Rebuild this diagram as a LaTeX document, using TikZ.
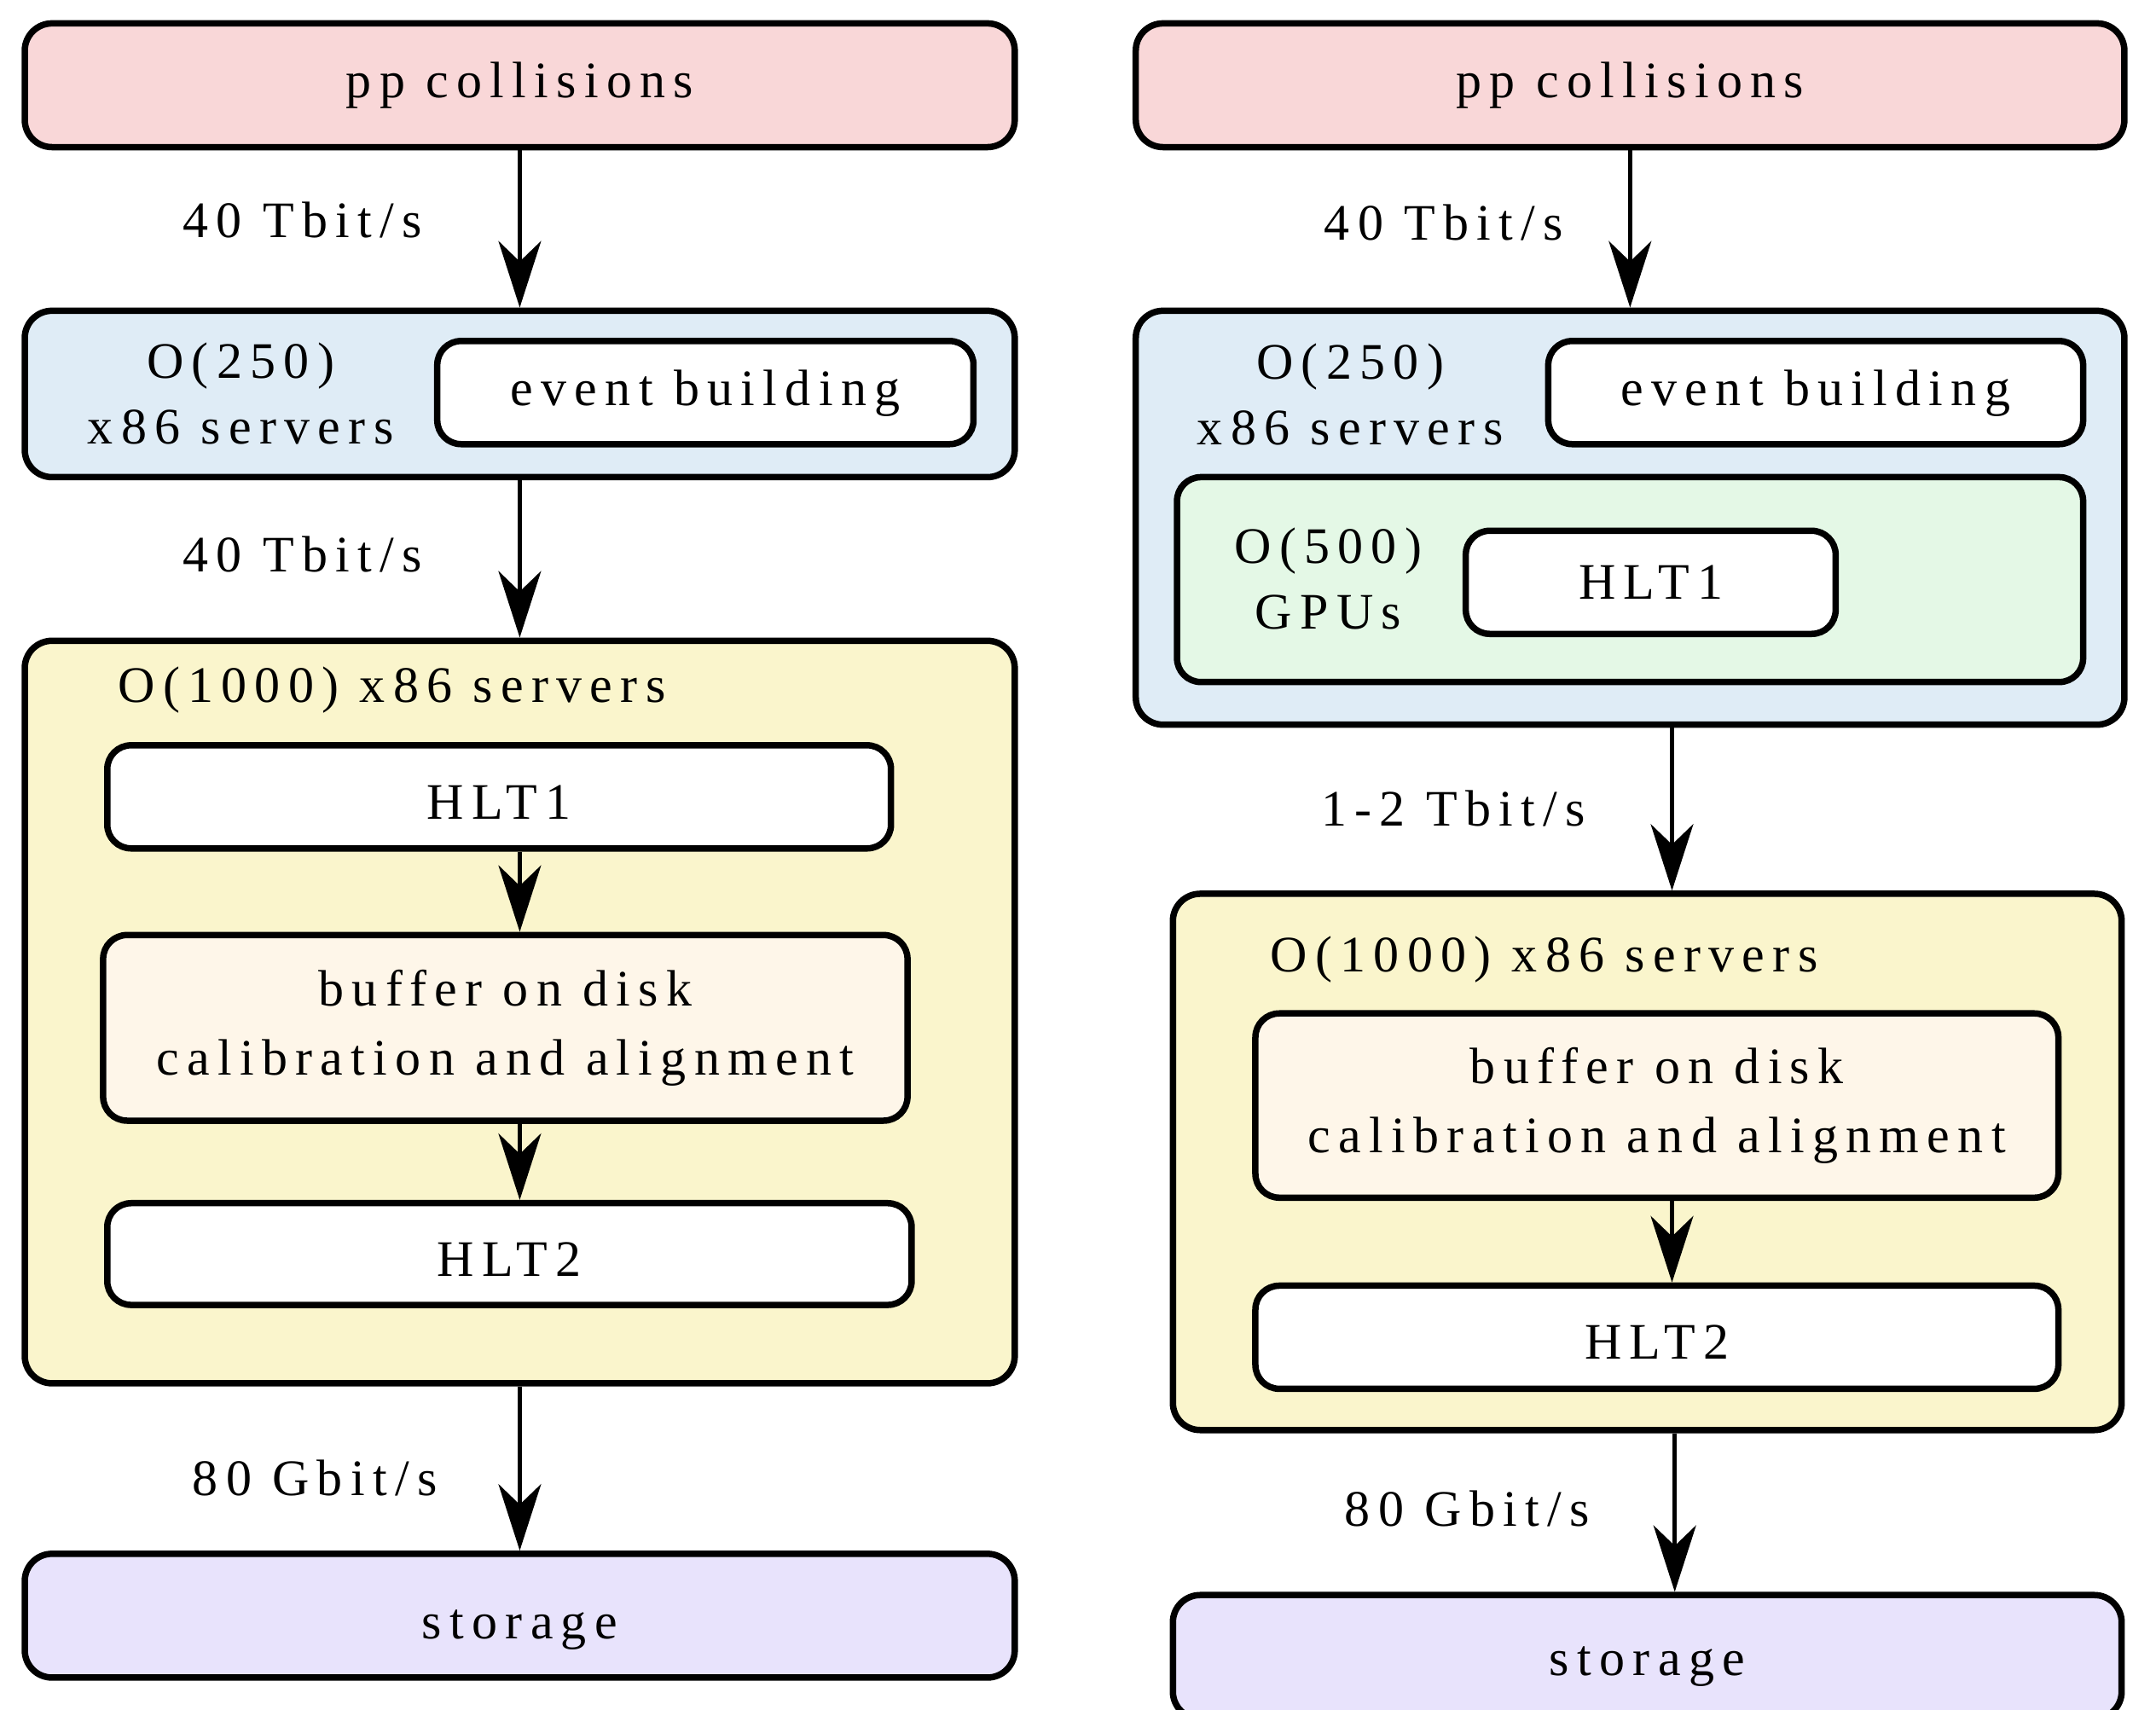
\documentclass[tikz,border=0pt]{standalone}
\usepackage{fontspec}
\setmainfont{Liberation Serif}[LetterSpace=15.5]
\usetikzlibrary{arrows.meta}
\definecolor{cpink}{HTML}{F9D7D8}
\definecolor{cblue}{HTML}{DFECF6}
\definecolor{cyel}{HTML}{FAF5CC}
\definecolor{cbuf}{HTML}{FEF6E9}
\definecolor{cgreen}{HTML}{E4F8E6}
\definecolor{clav}{HTML}{E8E3FC}
\begin{document}
\begin{tikzpicture}[x=1.6122pt,y=-1.6122pt,
  font=\fontsize{60}{77}\selectfont,
  wh/.style 2 args={minimum width={#1*1.6122pt}, minimum height={#2*1.6122pt}},
  box/.style={draw=black, line width=7.5pt, rounded corners=32pt, inner sep=0pt,
              text height=44pt, text depth=14pt},
  inbox/.style={box, fill=white, rounded corners=28pt},
  hltbox/.style={inbox, text height=66pt},
  bufbox/.style={draw=black, line width=7.5pt, rounded corners=28pt, inner sep=0pt,
                 fill=cbuf, align=center, font=\fontsize{60}{81}\selectfont},
  contbox/.style={draw=black, line width=7.5pt, rounded corners=32pt, inner sep=0pt},
  txt/.style={inner sep=0pt, align=center},
  arr/.style={line width=4.5pt, -{Stealth[length=78pt,width=50pt,inset=24pt]}},
]
\fill[white] (0,0) rectangle (1568,1243);
\useasboundingbox (0,0) rectangle (1568,1243);

% ---------------- left column ----------------
\node[box, fill=cpink, wh={720}{90}] (ppL) at (378,62) {pp collisions};
\node[contbox, fill=cblue, wh={720}{121}] (blueL) at (378,286.5) {};
\node[inbox, wh={390}{75}] (ebL) at (513,285.5) {event building};
\node[txt] (lab250L) at (175,286) {O(250)\\x86 servers};
\node[contbox, fill=cyel, wh={720}{540}] (yelL) at (378,736) {};
\node[txt] (lab1000L) at (285,502) {O(1000) x86 servers};
\node[hltbox, wh={570}{75}] (hlt1L) at (363,579.5) {HLT1};
\node[bufbox, wh={585}{135}] (bufL) at (367.5,747.5) {buffer on disk\\calibration and alignment};
\node[hltbox, wh={585}{74}] (hlt2L) at (370.5,912) {HLT2};
\node[box, fill=clav, text height=68pt, wh={720}{90}] (stL) at (378,1175) {storage};

\node[txt] (r1L) at (220,160) {40 Tbit/s};
\node[txt] (r2L) at (220,403) {40 Tbit/s};
\node[txt] (r3L) at (229,1075) {80 Gbit/s};

\draw[arr] (ppL.south) -- (blueL.north);
\draw[arr] (blueL.south) -- (yelL.north);
\draw[arr] (hlt1L.south -| ppL) -- (bufL.north -| ppL);
\draw[arr] (bufL.south -| ppL) -- (hlt2L.north -| ppL);
\draw[arr] (yelL.south) -- (stL.north);

% ---------------- right column ----------------
\node[box, fill=cpink, wh={719}{90}] (ppR) at (1185.5,62) {pp collisions};
\node[contbox, fill=cblue, wh={719}{301}] (blueR) at (1185.5,376.5) {};
\node[inbox, wh={389}{75}] (ebR) at (1320.5,285.5) {event building};
\node[txt] (lab250R) at (982,287) {O(250)\\x86 servers};
\node[contbox, fill=cgreen, rounded corners=28pt, wh={659}{149}] (greenR) at (1185.5,421.5) {};
\node[txt] (lab500R) at (966,421) {O(500)\\GPUs};
\node[inbox, text height=54pt, wh={269}{75}] (hlt1R) at (1200.5,423.5) {HLT1};
\node[contbox, fill=cyel, wh={690}{390}] (yelR) at (1198,845) {};
\node[txt] (lab1000R) at (1123,698) {O(1000) x86 servers};
\node[bufbox, wh={584}{134}] (bufR) at (1205,804) {buffer on disk\\calibration and alignment};
\node[hltbox, wh={584}{75}] (hlt2R) at (1205,972.5) {HLT2};
\node[box, fill=clav, text height=58pt, wh={690}{90}] (stR) at (1198,1205) {storage};

\node[txt] (r1R) at (1050,162) {40 Tbit/s};
\node[txt] (r2R) at (1057,588) {1-2 Tbit/s};
\node[txt] (r3R) at (1067,1097) {80 Gbit/s};

\coordinate (axR) at (1216,0);
\coordinate (axS) at (1218,0);
\draw[arr] (ppR.south) -- (blueR.north);
\draw[arr] (blueR.south -| axR) -- (yelR.north -| axR);
\draw[arr] (bufR.south -| axR) -- (hlt2R.north -| axR);
\draw[arr] (yelR.south -| axS) -- (stR.north -| axS);
\end{tikzpicture}
\end{document}
